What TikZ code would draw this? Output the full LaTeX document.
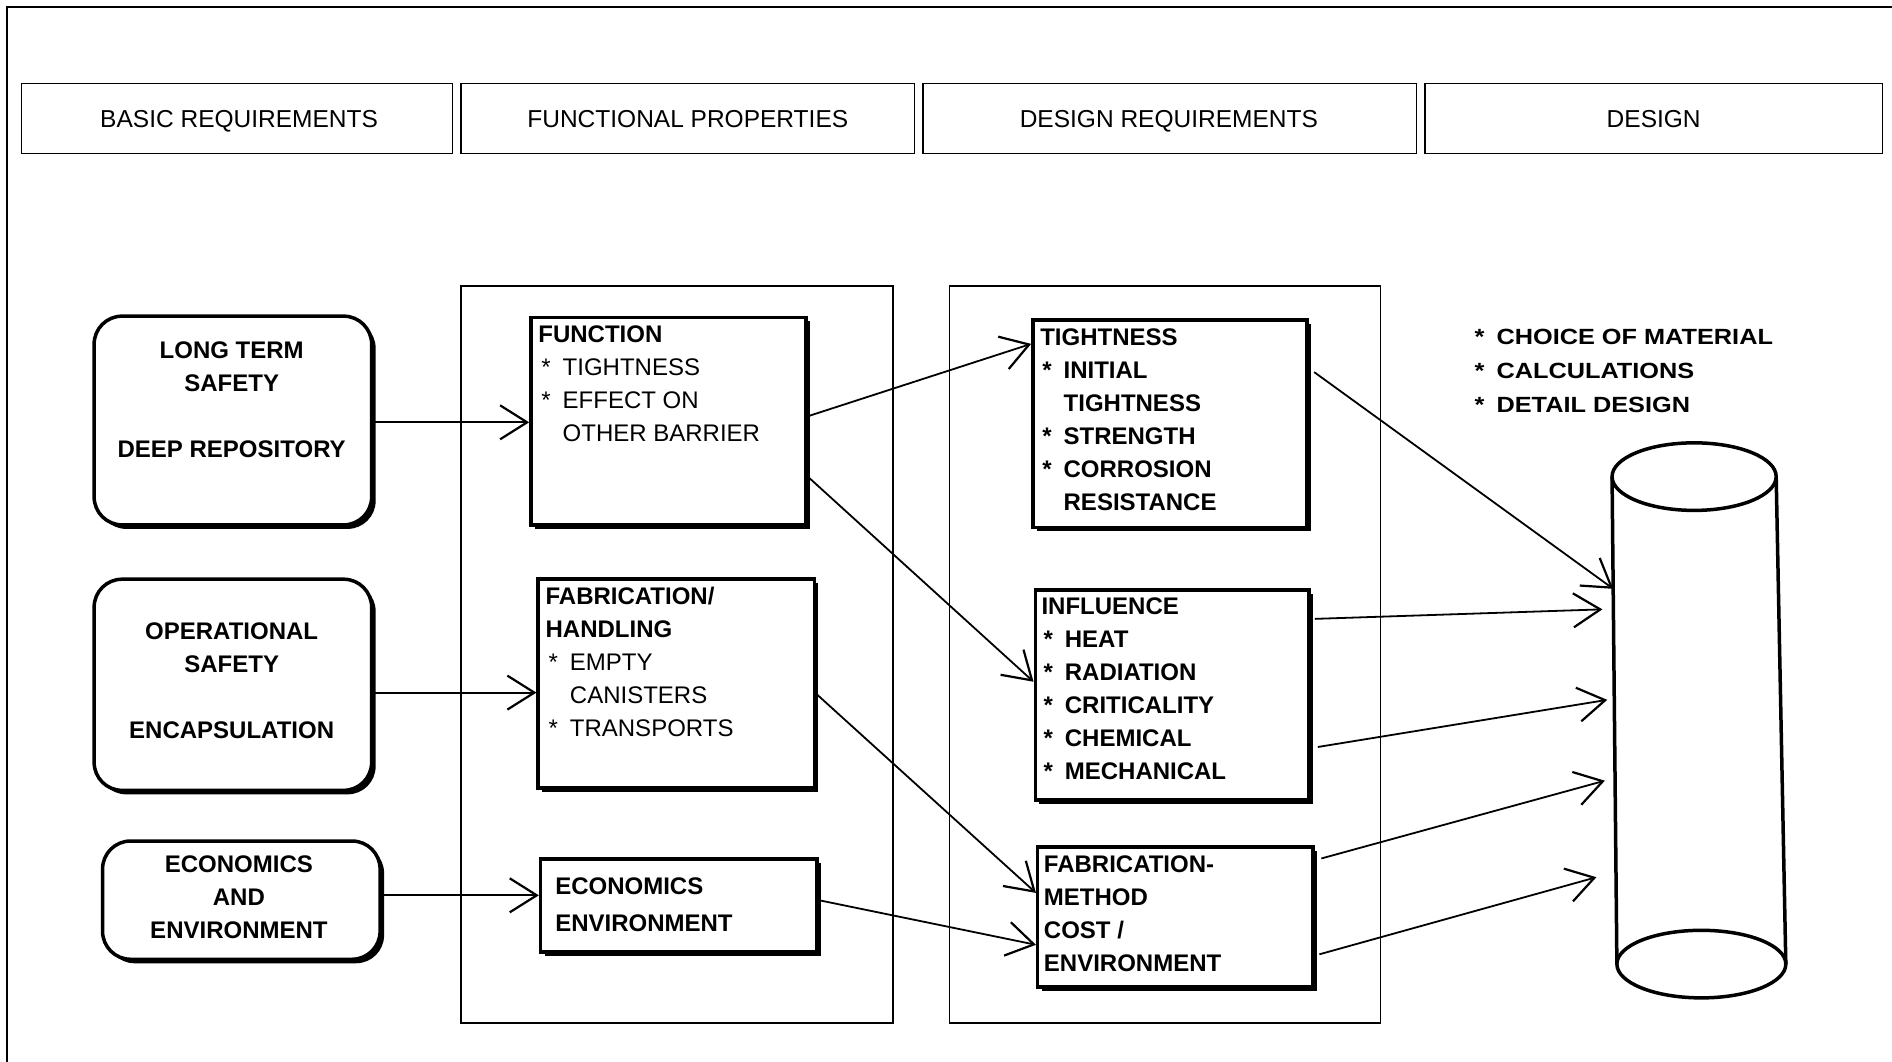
\documentclass[tikz,border=0pt]{standalone}
\usepackage{fontspec}
\setmainfont{Liberation Sans}
\newfontfamily\widefont[FakeStretch=1.15]{Liberation Sans}
\usetikzlibrary{arrows.meta,shadows,fit,calc}
% list bullet with the wide gap used in the boxes
\newcommand\itemstar{*\hspace{12pt}}

\begin{document}
\begin{tikzpicture}[x=1.2066pt, y=-1.2066pt,
  hdr/.style={draw, line width=1.3pt, inner sep=0pt},
  htext/.style={font=\fontsize{24.5}{28}\selectfont, inner sep=0pt, text height=17.5pt, text depth=0pt},
  colframe/.style={draw, line width=1.6pt, inner sep=0pt},
  rbox/.style={draw, line width=3.5pt, rounded corners=28pt, fill=white, inner sep=0pt,
    drop shadow={shadow xshift=4pt, shadow yshift=-4pt, fill=black, opacity=1}},
  sbox/.style={draw, line width=3.5pt, fill=white, inner sep=0pt,
    drop shadow={shadow xshift=4pt, shadow yshift=-4pt, fill=black, opacity=1}},
  ctext/.style={font=\fontsize{24}{33}\selectfont\bfseries, align=center, inner sep=0pt, anchor=north},
  ltext/.style={font=\fontsize{24}{33}\selectfont, align=left, inner sep=0pt, anchor=north west},
  btext/.style={ltext, font=\fontsize{24}{33}\selectfont\bfseries},
  wtext/.style={font=\widefont\fontsize{22}{34}\selectfont\bfseries, align=left, inner sep=0pt, anchor=north west},
  conn/.style={line width=1.8pt, -{Straight Barb[length=27pt, width=34pt, line width=2.2pt]}},
  cyl/.style={line width=3.5pt}
]
\useasboundingbox (0,0) rectangle (1568,880);

% outer frame
\draw[line width=1.8pt] (6,880) -- (6,6) -- (1568,6);

% column headings
\node[hdr, fit={(18,69) (375,127)}] (h1) {};
\node[hdr, fit={(382,69) (758,127)}] (h2) {};
\node[hdr, fit={(765,69) (1174,127)}] (h3) {};
\node[hdr, fit={(1181,69) (1560,127)}] (h4) {};
\node[htext] (h1T) at ([xshift=2pt,yshift=-1pt]h1.center) {BASIC REQUIREMENTS};
\node[htext] (h2T) at ([yshift=-1pt]h2.center) {FUNCTIONAL PROPERTIES};
\node[htext] (h3T) at ([xshift=-1pt,yshift=-1pt]h3.center) {DESIGN REQUIREMENTS};
\node[htext] (h4T) at ([yshift=-1pt]h4.center) {DESIGN};

% column frames
\node[colframe, fit={(382,237) (740,848)}] (colA) {};
\node[colframe, fit={(787,237) (1144,848)}] (colB) {};

% basic requirements
\node[rbox, fit={(78,262) (308,435)}] (lts) {};
\node[rbox, fit={(78,480) (308,655)}] (ops) {};
\node[rbox, fit={(85,697) (315,795)}] (eco) {};
\node[ctext] (ltsT) at (192,283) {LONG TERM\\SAFETY\\[33pt]DEEP REPOSITORY};
\node[ctext] (opsT) at (192,516) {OPERATIONAL\\SAFETY\\[33pt]ENCAPSULATION};
\node[ctext] (ecoT) at (198,709) {ECONOMICS\\AND\\ENVIRONMENT};

% functional properties
\node[sbox, fit={(440,263) (668,435)}] (func) {};
\node[sbox, fit={(446,480) (675,653)}] (fab) {};
\node[sbox, fit={(448,712) (677,789)}] (econ) {};
\node[ltext] (funcT) at (446,270) {{\bfseries FUNCTION}\\\hspace{3pt}\itemstar TIGHTNESS\\\hspace{3pt}\itemstar EFFECT ON\\\hspace{3pt}\phantom{\itemstar}OTHER BARRIER};
\node[ltext] (fabT) at (452,486) {{\bfseries FABRICATION/}\\{\bfseries HANDLING}\\\hspace{3pt}\itemstar EMPTY\\\hspace{3pt}\phantom{\itemstar}CANISTERS\\\hspace{3pt}\itemstar TRANSPORTS};
\node[btext] (econT) at (460,727) {ECONOMICS\\[4pt]ENVIRONMENT};

% design requirements
\node[sbox, fit={(856,265) (1083,437)}] (tight) {};
\node[sbox, fit={(858,489) (1085,663)}] (infl) {};
\node[sbox, fit={(860,702) (1088,818)}] (fabm) {};
\node[btext] (tightT) at (862,272) {TIGHTNESS\\\hspace{2pt}\itemstar INITIAL\\\hspace{2pt}\phantom{\itemstar}TIGHTNESS\\\hspace{2pt}\itemstar STRENGTH\\\hspace{2pt}\itemstar CORROSION\\\hspace{2pt}\phantom{\itemstar}RESISTANCE};
\node[btext] (inflT) at (863,495) {INFLUENCE\\\hspace{2pt}\itemstar HEAT\\\hspace{2pt}\itemstar RADIATION\\\hspace{2pt}\itemstar CRITICALITY\\\hspace{2pt}\itemstar CHEMICAL\\\hspace{2pt}\itemstar MECHANICAL};
\node[btext] (fabmT) at (865,709) {FABRICATION-\\METHOD\\COST /\\ENVIRONMENT};

% design
\node[wtext] (desT) at (1222,273) {\itemstar CHOICE OF MATERIAL\\\itemstar CALCULATIONS\\\itemstar DETAIL DESIGN};

% canister
\draw[cyl] (1336,395) -- (1340,799);
\draw[cyl] (1472,395) -- (1480,799);
\draw[cyl, fill=white] (1404,395) ellipse [x radius=68, y radius=28];
\draw[cyl, fill=white] (1410,799) ellipse [x radius=70, y radius=28];
\coordinate (c1) at (1337,488);
\coordinate (c2) at (1328,505);
\coordinate (c3) at (1332,580);
\coordinate (c4) at (1330,647);
\coordinate (c5) at (1323,727);

% connectors
\draw[conn] (lts.east |- 0,350) -- (func.west |- 0,350);
\draw[conn] (ops.east |- 0,574) -- (fab.west |- 0,574);
\draw[conn] (eco.east |- 0,742) -- (econ.west |- 0,742);
\draw[conn] (func.east |- 0,345) -- (tight.west |- 0,285);
\draw[conn] (func.east |- 0,395) -- (infl.west |- 0,565);
\draw[conn] (fab.east |- 0,575) -- (fabm.west |- 0,740);
\draw[conn] (econ.east |- 0,746) -- (fabm.west |- 0,783);
\draw[conn, shorten <=7pt] (tight.east |- 0,305) -- (c1);
\draw[conn, shorten <=4pt] (infl.east |- 0,513) -- (c2);
\draw[conn, shorten <=7pt] (infl.east |- 0,620) -- (c3);
\draw[conn, shorten <=7pt] (fabm.east |- 0,713) -- (c4);
\draw[conn, shorten <=5pt] (fabm.east |- 0,792) -- (c5);
\end{tikzpicture}
\end{document}
